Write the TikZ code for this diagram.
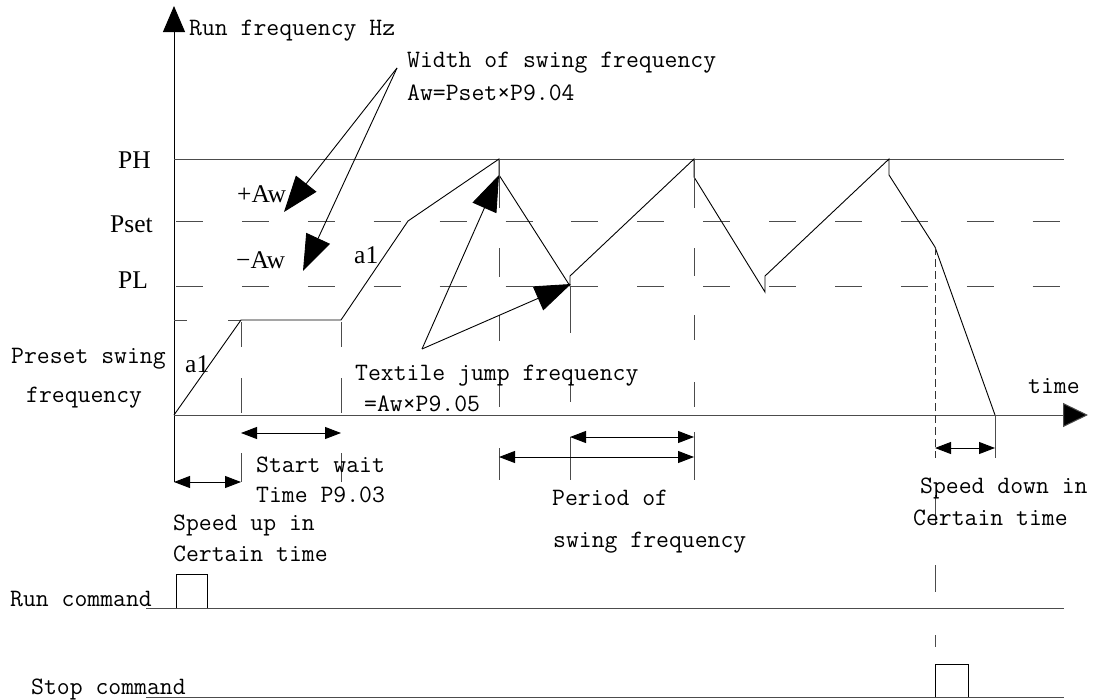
\documentclass[tikz,border=0pt]{standalone}
\usepackage{fontspec}
\newfontfamily\tnr{Liberation Serif}
\usetikzlibrary{arrows.meta}
\begin{document}
\begin{tikzpicture}[x=1pt,y=-1pt,
  mono/.style={font={\fontsize{25}{30}\selectfont\ttfamily}, inner sep=0pt, anchor=base west},
  ser/.style={font={\fontsize{25.5}{30}\selectfont\tnr}, inner sep=0pt, anchor=base west},
  thinline/.style={line width=0.9pt, black},
  gridline/.style={line width=1pt, black!70},
  hdash/.style={gridline, dash pattern=on 27pt off 38.9pt},
  fdash/.style={line width=0.9pt, black!80, dash pattern=on 8pt off 4pt},
  bigarrow/.style={thinline,-{Triangle[length=36pt,width=26pt]}},
  dimarrow/.style={thinline,{Triangle[length=16pt,width=12pt]}-{Triangle[length=16pt,width=12pt]}},
]
\useasboundingbox (0,0) rectangle (1098,699);

% axes
\coordinate (O) at (174,415);
\coordinate (ybot) at (174,482);
\coordinate (ytop) at (174,6);
\coordinate (xend) at (1088,415);
\draw[thinline, -{Triangle[length=26pt,width=22pt]}] (ybot) -- (ytop);
\draw[gridline, -{Triangle[length=25pt,width=24pt,fill=black]}] (O) -- (xend);

% level lines
\draw[gridline] (174,159) -- (1064,159);
\draw[hdash] (176,221) -- (1064,221);
\draw[hdash] (176,286) -- (1064,286);
\draw[gridline] (174,320) -- (187,320) (228,320) -- (241,320);

% frequency curve
\draw[thinline] (O) -- (241,320) -- (341,320) -- (408,221) -- (499,159) -- (499,175)
  -- (570,286) -- (570,276) -- (694,159) -- (694,177) -- (765,292) -- (765,276)
  -- (889,159) -- (889,175) -- (935,247) -- (995,415);

% vertical guide segments
\draw[gridline] (241,322)--(241,347) (241,378)--(241,413) (241,453)--(241,482);
\draw[gridline] (341,322)--(341,347) (341,378)--(341,413) (341,453)--(341,482);
\draw[gridline] (499,159)--(499,208) (499,248)--(499,277) (499,315)--(499,341) (499,382)--(499,407) (499,448)--(499,480);
\draw[gridline] (570,286)--(570,333) (570,382)--(570,402) (570,437)--(570,480);
\draw[gridline] (694,159)--(694,208) (694,248)--(694,276) (694,315)--(694,340) (694,382)--(694,407) (694,432)--(694,480);
\draw[gridline] (995,415)--(995,458);
\draw[fdash] (935,247)--(935,458);
\draw[gridline] (935,495)--(935,525) (935,565)--(935,592) (935,635)--(935,647);

% dimension arrows
\draw[dimarrow] (174,482)--(241,482);
\draw[dimarrow] (241,433)--(341,433);
\draw[dimarrow] (570,437)--(694,437);
\draw[dimarrow] (499,457)--(694,457);
\draw[dimarrow] (935,448)--(995,448);

% annotation arrows
\coordinate (wapex) at (397,68);
\draw[bigarrow] (wapex) -- (284,212);
\draw[bigarrow] (wapex) -- (303,271);
\coordinate (tapex) at (422,349);
\draw[bigarrow] (tapex) -- (499,175);
\draw[bigarrow] (tapex) -- (571,284);

% command lines
\draw[gridline] (146,608) -- (1064,608);
\draw[thinline] (176,608) -- (176,574) -- (207,574) -- (207,608);
\draw[gridline] (146,697) -- (1064,697);
\draw[thinline] (935,697) -- (935,664) -- (968,664) -- (968,697);

% texts
\node[mono] (tRun) at (189,35) {Run frequency Hz};
\node[mono] (tW1) at (407,67) {Width of swing frequency};
\node[mono] (tW2) at (407,100) {Aw=Pset×P9.04};
\node[ser] (tPH) at (118,168) {PH};
\node[ser] (tPA) at (237,202) {+Aw};
\node[ser] (tPset) at (110,232) {Pset};
\node[ser] (tMA) at (236,268) {−Aw};
\node[ser] (tPL) at (118,288) {PL};
\node[ser] (ta1a) at (185,372) {a1};
\node[ser] (ta1b) at (354,263) {a1};
\node[mono] (tPre1) at (11,363) {Preset swing};
\node[mono] (tPre2) at (26,402) {frequency};
\node[mono] (tTex1) at (355,380) {Textile jump frequency};
\node[mono] (tTex2) at (364,411) {=Aw×P9.05};
\node[mono] (tTime) at (1028,393) {time};
\node[mono] (tSw1) at (256,472) {Start wait};
\node[mono] (tSw2) at (256,502) {Time P9.03};
\node[mono] (tSu1) at (173,530) {Speed up in};
\node[mono] (tSu2) at (173,561) {Certain time};
\node[mono] (tPer1) at (552,505) {Period of};
\node[mono] (tPer2) at (553,547) {swing frequency};
\node[mono] (tSd1) at (920,493) {Speed down in};
\node[mono] (tSd2) at (913,525) {Certain time};
\node[mono] (tRc) at (10,606) {Run command};
\node[mono] (tSc) at (31,694) {Stop command};
\end{tikzpicture}
\end{document}
